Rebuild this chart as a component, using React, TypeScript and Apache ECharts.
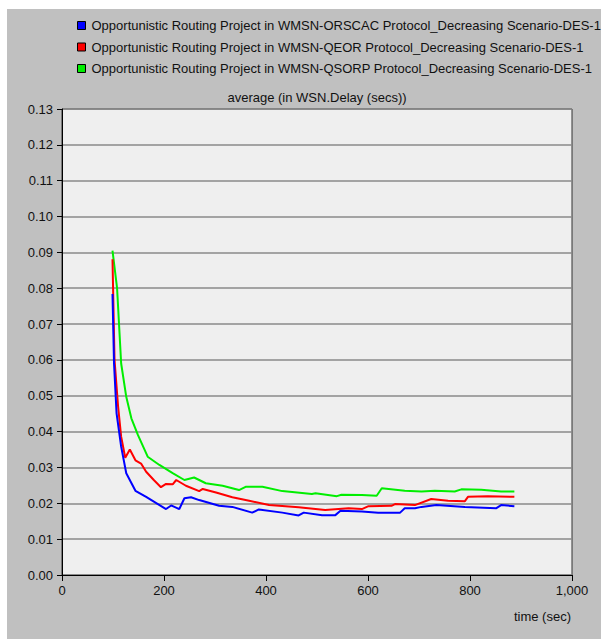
import React, { useEffect, useRef } from "react";
import * as echarts from "echarts";

const seriesNames = [
  "Opportunistic Routing Project in WMSN-ORSCAC Protocol_Decreasing Scenario-DES-1",
  "Opportunistic Routing Project in WMSN-QEOR Protocol_Decreasing Scenario-DES-1",
  "Opportunistic Routing Project in WMSN-QSORP Protocol_Decreasing Scenario-DES-1",
];
const seriesColors = ["#0000ff", "#ff0000", "#00ee00"];

const orscacTime = [99, 102, 107, 116, 126, 144, 165, 204, 214, 230, 240, 253, 269, 308, 334, 373, 386, 432, 464, 474, 510, 536, 546, 588, 620, 663, 672, 692, 705, 734, 790, 851, 861, 887];
const orscacDelay = [0.0784, 0.059, 0.0451, 0.0358, 0.0284, 0.0235, 0.0218, 0.0184, 0.0194, 0.0184, 0.0214, 0.0217, 0.0209, 0.0193, 0.019, 0.0174, 0.0183, 0.0174, 0.0166, 0.0174, 0.0167, 0.0167, 0.0179, 0.0177, 0.0174, 0.0174, 0.0186, 0.0186, 0.019, 0.0195, 0.019, 0.0186, 0.0195, 0.0192];

const qeorTime = [99, 103, 110, 116, 124, 133, 144, 155, 165, 180, 194, 204, 217, 224, 243, 269, 276, 302, 334, 367, 406, 464, 516, 562, 588, 601, 646, 653, 692, 724, 757, 790, 796, 835, 887];
const qeorDelay = [0.0881, 0.06, 0.047, 0.0386, 0.0327, 0.035, 0.032, 0.0311, 0.0288, 0.0265, 0.0245, 0.0254, 0.0253, 0.0265, 0.0249, 0.0234, 0.024, 0.023, 0.0217, 0.0207, 0.0195, 0.0189, 0.0181, 0.0186, 0.0184, 0.0192, 0.0193, 0.0198, 0.0195, 0.0212, 0.0207, 0.0206, 0.0218, 0.022, 0.0218];

const qsorpTime = [99, 108, 116, 126, 136, 149, 168, 191, 217, 240, 259, 282, 315, 347, 360, 393, 432, 490, 497, 539, 548, 588, 617, 627, 672, 705, 731, 770, 783, 822, 861, 887];
const qsorpDelay = [0.0905, 0.08, 0.059, 0.0497, 0.0437, 0.039, 0.033, 0.0307, 0.0284, 0.0265, 0.0272, 0.0256, 0.0249, 0.0237, 0.0246, 0.0246, 0.0234, 0.0226, 0.0228, 0.022, 0.0224, 0.0223, 0.0221, 0.0242, 0.0235, 0.0233, 0.0235, 0.0233, 0.0239, 0.0238, 0.0233, 0.0233];

const chartTitle = "average (in WSN.Delay (secs))";
const xAxisTitle = "time (sec)";

const FONT = 'Arial, "Liberation Sans", sans-serif';

function pairs(t: number[], v: number[]) {
  return t.map((x, i) => [x, v[i]]);
}

export default function App() {
  const ref = useRef<HTMLDivElement>(null);
  useEffect(() => {
    if (!ref.current) return;
    const chart = echarts.init(ref.current, undefined, { renderer: "svg" });
    const data = [
      pairs(orscacTime, orscacDelay),
      pairs(qeorTime, qeorDelay),
      pairs(qsorpTime, qsorpDelay),
    ];
    chart.setOption({
      animation: false,
      backgroundColor: "#ffffff",
      textStyle: { fontFamily: FONT },
      legend: {
        orient: "vertical",
        left: 77,
        top: 18.5,
        padding: 0,
        itemWidth: 8,
        itemHeight: 8,
        itemGap: 7.5,
        icon: "rect",
        itemStyle: { borderColor: "#000", borderWidth: 1 },
        textStyle: { fontSize: 13, color: "#111", fontFamily: FONT, lineHeight: 14, padding: [0, 0, 0, 1] },
        data: seriesNames,
      },
      grid: {
        left: 62,
        top: 109,
        right: 29,
        bottom: 64,
        show: true,
        backgroundColor: "#efefef",
        borderColor: "#333",
        borderWidth: 1,
      },
      xAxis: {
        type: "value",
        min: 0,
        max: 1000,
        interval: 200,
        axisLine: { show: true, lineStyle: { color: "#000", width: 1 } },
        axisTick: { show: true, length: 6, lineStyle: { color: "#000" } },
        axisLabel: {
          color: "#111",
          fontSize: 13,
          fontFamily: FONT,
          margin: 9,
          formatter: (v: number) => v.toLocaleString("en-US"),
        },
        splitLine: { show: false },
      },
      yAxis: {
        type: "value",
        min: 0,
        max: 0.13,
        interval: 0.01,
        axisLine: { show: true, lineStyle: { color: "#000", width: 1 } },
        axisTick: { show: true, length: 5, lineStyle: { color: "#000" } },
        axisLabel: {
          color: "#111",
          fontSize: 13,
          fontFamily: FONT,
          margin: 9,
          formatter: (v: number) => v.toFixed(2),
        },
        splitLine: { show: true, lineStyle: { color: "#8a8a8a", width: 1.5 } },
      },
      graphic: [
        {
          type: "rect",
          z: -10,
          silent: true,
          shape: { x: 7, y: 9, width: 601, height: 639 },
          style: { fill: "#c0c0c0" },
        },
        {
          type: "text",
          x: 317,
          y: 97,
          style: {
            text: chartTitle,
            fontSize: 13,
            fontFamily: FONT,
            fill: "#111",
            textAlign: "center",
            textVerticalAlign: "middle",
          },
        },
        {
          type: "text",
          x: 571,
          y: 616,
          style: {
            text: xAxisTitle,
            fontSize: 13,
            fontFamily: FONT,
            fill: "#111",
            textAlign: "right",
            textVerticalAlign: "middle",
          },
        },
      ],
      series: data.map((d, i) => ({
        name: seriesNames[i],
        type: "line",
        data: d,
        showSymbol: false,
        symbol: "none",
        color: seriesColors[i],
        lineStyle: { color: seriesColors[i], width: 2 },
        z: 3 + (2 - i),
      })),
    });
    return () => chart.dispose();
  }, []);
  return (
    <div style={{ position: "absolute", left: 0, top: 0, width: 601, height: 639, background: "#fff" }}>
      <div ref={ref} style={{ width: 601, height: 639 }} />
    </div>
  );
}
